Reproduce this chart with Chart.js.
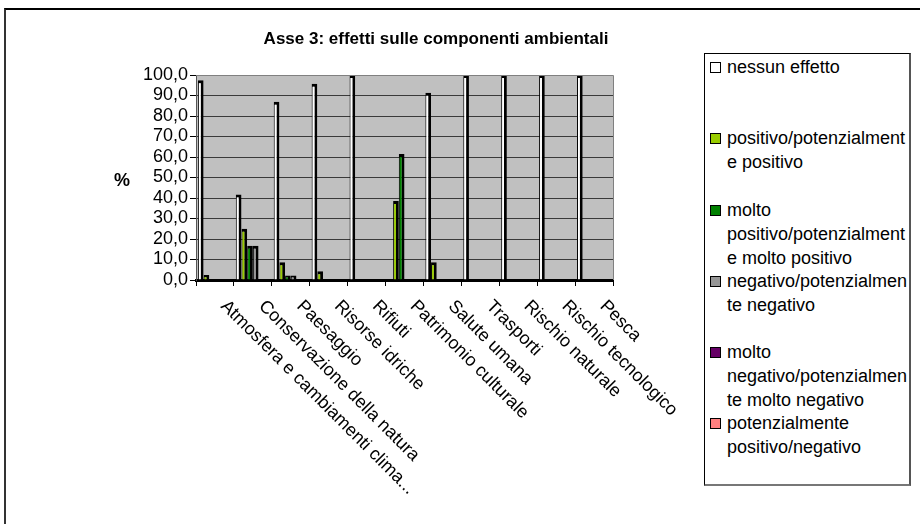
<!DOCTYPE html>
<html lang="it">
<head>
    <meta charset="UTF-8">
    <title>Asse 3: effetti sulle componenti ambientali</title>
    <script src="https://cdn.jsdelivr.net/npm/chart.js"></script>
    <style>
        body { margin: 0; background: #fff; font-family: "Liberation Sans", Arial, sans-serif; }
        #wrap { position: relative; width: 920px; height: 524px; overflow: hidden; }
        #frame { position: absolute; left: 4px; top: 8px; width: 1000px; height: 600px;
                 border-left: 2px solid #333; border-top: 2px solid #000; }
        #voteChart { position: absolute; left: 0; top: 0; }
        #legend { position: absolute; left: 704px; top: 53px; width: 207px; height: 433px;
                  border: 1px solid #000; border-right: 2px solid #555; border-bottom: 2px solid #777;
                  background: #fff; padding-top: 1px; box-sizing: border-box; }
        .item { position: relative; height: 71.3px; font-size: 18px; line-height: 24px; color: #000; }
        .item .sw { position: absolute; left: 5px; top: 7px; width: 9px; height: 9px; border: 1px solid #000; }
        .item .tx { position: absolute; left: 22px; top: 0; width: 183px; overflow-wrap: anywhere; }
    </style>
</head>
<body>
<div id="wrap">
    <div id="frame"></div>
    <canvas id="voteChart" width="920" height="524"></canvas>
    <div id="legend"></div>
</div>

<script>
    // categorie (componenti ambientali)
    const categories = [
        'Atmosfera e cambiamenti clima...', 'Conservazione della natura', 'Paesaggio',
        'Risorse idriche', 'Rifiuti', 'Patrimonio culturale', 'Salute umana',
        'Trasporti', 'Rischio naturale', 'Rischio tecnologico', 'Pesca'
    ];

    // serie
    const seriesNames = [
        'nessun effetto',
        'positivo/potenzialmente positivo',
        'molto positivo/potenzialmente molto positivo',
        'negativo/potenzialmente negativo',
        'molto negativo/potenzialmente molto negativo',
        'potenzialmente positivo/negativo'
    ];
    const seriesColors = ['#FFFFFF', '#99CC00', '#008000', '#969696', '#660066', '#FF8080'];

    // valori in %
    const nessunEffetto  = [97.5, 41.7, 87.0, 95.7, 100, 0, 91.3, 100, 100, 100, 100];
    const positivo       = [2.5, 25.0, 8.7, 4.3, 0, 38.5, 8.7, 0, 0, 0, 0];
    const moltoPositivo  = [0, 16.7, 2.2, 0, 0, 61.5, 0, 0, 0, 0, 0];
    const negativo       = [0, 16.7, 2.2, 0, 0, 0, 0, 0, 0, 0, 0];
    const moltoNegativo  = [0, 0, 0, 0, 0, 0, 0, 0, 0, 0, 0];
    const potenzialmente = [0, 0, 0, 0, 0, 0, 0, 0, 0, 0, 0];

    const yMin = 0, yMax = 100, yStep = 10;

    const allSeries = [nessunEffetto, positivo, moltoPositivo, negativo, moltoNegativo, potenzialmente];
    const FONT = '"Liberation Sans", Arial, sans-serif';

    // testi disegnati a mano: titolo, "%", etichette inclinate
    const extraText = {
        id: 'extraText',
        beforeDraw(chart) {
            const { ctx, chartArea } = chart;
            ctx.save();
            ctx.fillStyle = '#C0C0C0';
            ctx.fillRect(chartArea.left, chartArea.top, chartArea.right - chartArea.left, chartArea.bottom - chartArea.top);
            ctx.restore();
        },
        afterDraw(chart) {
            const { ctx, chartArea } = chart;
            ctx.save();
            ctx.strokeStyle = '#808080';
            ctx.lineWidth = 1;
            ctx.beginPath();
            ctx.moveTo(chartArea.left, chartArea.top + 0.5);
            ctx.lineTo(chartArea.right + 0.5, chartArea.top + 0.5);
            ctx.lineTo(chartArea.right + 0.5, chartArea.bottom);
            ctx.stroke();

            ctx.fillStyle = '#000';
            ctx.font = 'bold 17px ' + FONT;
            ctx.textAlign = 'center';
            ctx.textBaseline = 'middle';
            ctx.fillText('Asse 3: effetti sulle componenti ambientali', 436, 39);
            ctx.font = 'bold 18px ' + FONT;
            ctx.fillText('%', 122, 181);

            const xs = chart.scales.x;
            ctx.font = '18px ' + FONT;
            ctx.textAlign = 'left';
            ctx.textBaseline = 'top';
            categories.forEach((c, i) => {
                const x = xs.getPixelForTick(i);
                ctx.save();
                ctx.translate(x + 15, chartArea.bottom + 17);
                ctx.rotate(Math.PI / 4);
                ctx.fillText(c, 0, 0);
                ctx.restore();
            });
            ctx.restore();
        }
    };

    const ctx = document.getElementById('voteChart').getContext('2d');
    new Chart(ctx, {
        type: 'bar',
        data: {
            labels: categories,
            datasets: allSeries.map((d, i) => ({
                label: seriesNames[i],
                data: d,
                backgroundColor: seriesColors[i],
                borderColor: '#000',
                borderWidth: { left: 1, top: 3, right: 3, bottom: 0 },
                borderSkipped: 'bottom',
                categoryPercentage: 0.9,
                barPercentage: 1.0
            }))
        },
        options: {
            responsive: false,
            animation: false,
            devicePixelRatio: 1,
            layout: { padding: { left: 126, right: 307, top: 75, bottom: 234 } },
            plugins: {
                legend: { display: false },
                title: { display: false },
                tooltip: { enabled: false }
            },
            scales: {
                x: {
                    offset: true,
                    afterFit: s => { s.height = 10; },
                    ticks: { display: false },
                    grid: { offset: true, drawOnChartArea: false, drawTicks: true, tickLength: 6, color: '#000' },
                    border: { display: true, color: '#000', width: 3 }
                },
                y: {
                    min: yMin,
                    max: yMax,
                    afterFit: s => { s.width = 70; },
                    ticks: {
                        stepSize: yStep,
                        autoSkip: false,
                        color: '#000',
                        padding: 2,
                        font: { family: FONT, size: 18 },
                        callback: v => v.toFixed(1).replace('.', ',')
                    },
                    grid: { color: '#3a3a3a', tickColor: '#000', tickLength: 6, lineWidth: 1 },
                    border: { display: true, color: '#555', width: 1 }
                }
            }
        },
        plugins: [extraText]
    });

    // legenda in HTML
    const legend = document.getElementById('legend');
    seriesNames.forEach((name, i) => {
        const item = document.createElement('div');
        item.className = 'item';
        const sw = document.createElement('span');
        sw.className = 'sw';
        sw.style.background = seriesColors[i];
        const tx = document.createElement('span');
        tx.className = 'tx';
        tx.textContent = name.replace('/', '/\u2060');
        item.appendChild(sw);
        item.appendChild(tx);
        legend.appendChild(item);
    });
</script>
</body>
</html>
